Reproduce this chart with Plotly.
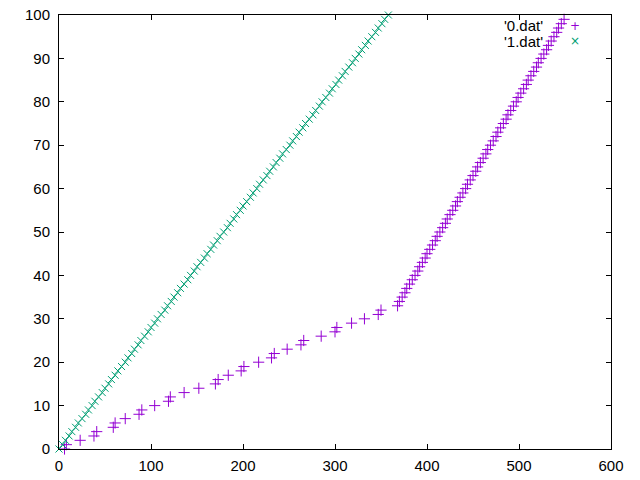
import plotly.graph_objects as go

# '0.dat'
y0 = [0, 1, 2, 3, 4, 5, 6, 7, 8, 9,
      10, 11, 12, 13, 14, 15, 16, 17, 18, 19,
      20, 21, 22, 23, 24, 25, 26, 27, 28, 29,
      30, 31, 32, 33, 34, 35, 36, 37, 38, 39,
      40, 41, 42, 43, 44, 45, 46, 47, 48, 49,
      50, 51, 52, 53, 54, 55, 56, 57, 58, 59,
      60, 61, 62, 63, 64, 65, 66, 67, 68, 69,
      70, 71, 72, 73, 74, 75, 76, 77, 78, 79,
      80, 81, 82, 83, 84, 85, 86, 87, 88, 89,
      90, 91, 92, 93, 94, 95, 96, 97, 98, 99]
x0 = [6, 8, 23, 38, 41, 59, 61, 72, 87, 90,
      104, 119, 121, 136, 152, 170, 173, 184, 198, 201,
      217, 231, 234, 248, 263, 266, 285, 300, 302, 318,
      332, 347, 350, 368, 370, 373, 376, 378, 381, 384,
      387, 390, 392, 395, 398, 400, 403, 406, 409, 411,
      414, 417, 420, 422, 425, 428, 431, 433, 436, 439,
      442, 444, 447, 450, 453, 455, 458, 461, 464, 466,
      469, 472, 475, 477, 480, 483, 486, 488, 491, 494,
      497, 499, 502, 505, 508, 510, 513, 516, 519, 521,
      524, 527, 530, 532, 535, 538, 541, 543, 546, 549]

# '1.dat'
y1 = [0, 1, 2, 3, 4, 5, 6, 7, 8, 9,
      10, 11, 12, 13, 14, 15, 16, 17, 18, 19,
      20, 21, 22, 23, 24, 25, 26, 27, 28, 29,
      30, 31, 32, 33, 34, 35, 36, 37, 38, 39,
      40, 41, 42, 43, 44, 45, 46, 47, 48, 49,
      50, 51, 52, 53, 54, 55, 56, 57, 58, 59,
      60, 61, 62, 63, 64, 65, 66, 67, 68, 69,
      70, 71, 72, 73, 74, 75, 76, 77, 78, 79,
      80, 81, 82, 83, 84, 85, 86, 87, 88, 89,
      90, 91, 92, 93, 94, 95, 96, 97, 98, 99, 100]
x1 = [0, 4, 7, 11, 14, 18, 21, 25, 29, 32,
      36, 39, 43, 47, 50, 54, 57, 61, 64, 68,
      72, 75, 79, 82, 86, 89, 93, 97, 100, 104,
      107, 111, 115, 118, 122, 125, 129, 132, 136, 140,
      143, 147, 150, 154, 158, 161, 165, 168, 172, 175,
      179, 183, 186, 190, 193, 197, 200, 204, 208, 211,
      215, 218, 222, 226, 229, 233, 236, 240, 243, 247,
      251, 254, 258, 261, 265, 268, 272, 276, 279, 283,
      286, 290, 294, 297, 301, 304, 308, 311, 315, 319,
      322, 326, 329, 333, 336, 340, 344, 347, 351, 354, 358]

names = ["'0.dat'", "'1.dat'"]
colors = ["#9400D3", "#009E73"]
x_ticks = [0, 100, 200, 300, 400, 500, 600]
y_ticks = [0, 10, 20, 30, 40, 50, 60, 70, 80, 90, 100]

FONT = "Liberation Sans, Arial, sans-serif"

fig = go.Figure()
fig.add_trace(go.Scatter(
    x=x0, y=y0, mode="markers", name=names[0], showlegend=False,
    marker=dict(symbol="cross-thin", size=8, color=colors[0],
                line=dict(color=colors[0], width=1)),
    cliponaxis=False))
fig.add_trace(go.Scatter(
    x=x1, y=y1, mode="markers", name=names[1], showlegend=False,
    marker=dict(symbol="x-thin", size=7, color=colors[1],
                line=dict(color=colors[1], width=1)),
    cliponaxis=False))

axis_common = dict(
    showline=True, linecolor="black", linewidth=1, mirror="ticks",
    ticks="inside", ticklen=5, tickwidth=1, tickcolor="black",
    showgrid=False, zeroline=False, automargin=False,
    ticklabeloverflow="allow",
    tickfont=dict(family=FONT, size=15, color="black"),
)
fig.update_xaxes(range=[0, 600], tickvals=x_ticks, ticklabelstandoff=3, **axis_common)
fig.update_yaxes(range=[0, 100], tickvals=y_ticks, ticklabelstandoff=5, **axis_common)

# gnuplot-style key: text right-aligned, sample to the right
key_rows = [0.975, 0.939]
sample_chars = ["+", "\u00d7"]
for i in range(2):
    fig.add_annotation(xref="paper", yref="paper", x=0.880, y=key_rows[i],
                       text=names[i], showarrow=False, xanchor="right", yanchor="middle",
                       font=dict(family=FONT, size=15, color="black"))
    fig.add_annotation(xref="paper", yref="paper", x=0.935, y=key_rows[i],
                       text=sample_chars[i], showarrow=False, xanchor="center", yanchor="middle",
                       font=dict(family="DejaVu Sans", size=12, color=colors[i]))

fig.update_layout(
    width=640, height=480,
    margin=dict(l=59, r=29, t=15, b=31, autoexpand=False),
    paper_bgcolor="white", plot_bgcolor="white",
    showlegend=False,
)
fig.write_html("out.html", config={"displayModeBar": False},
               post_script="document.body.style.margin='0';")
